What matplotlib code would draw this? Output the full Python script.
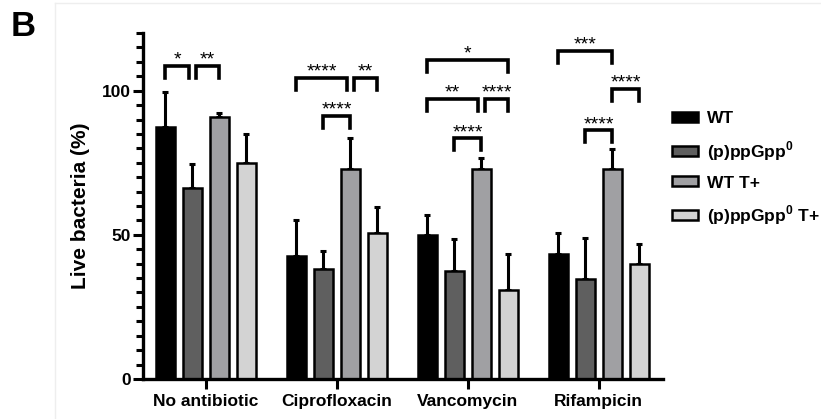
import numpy as np
import matplotlib.pyplot as plt
from matplotlib.lines import Line2D
from matplotlib.patches import Patch
from matplotlib.ticker import MultipleLocator

plt.rcParams['font.family'] = ['Liberation Sans', 'DejaVu Sans']
plt.rcParams['font.weight'] = 'bold'
plt.rcParams['mathtext.fontset'] = 'custom'
plt.rcParams['mathtext.rm'] = 'Liberation Sans'
plt.rcParams['mathtext.bf'] = 'Liberation Sans:bold'

# datos
categories = ['No antibiotic', 'Ciprofloxacin', 'Vancomycin', 'Rifampicin']
series = ['WT', '(p)ppGpp$^{\\mathbf{0}}$', 'WT T+', '(p)ppGpp$^{\\mathbf{0}}$ T+']
colors = ['#000000', '#5f5f5f', '#a0a0a3', '#d3d3d3']
means = [
    [87.5, 42.5, 50.0, 43.3],   # WT
    [66.3, 38.0, 37.3, 34.7],   # (p)ppGpp0
    [90.9, 72.9, 72.9, 72.7],   # WT T+
    [74.9, 50.6, 31.0, 39.8],   # (p)ppGpp0 T+
]
errors_top = [
    [99.6, 55.3, 56.9, 50.6],
    [74.6, 44.5, 48.5, 48.8],
    [92.3, 83.5, 76.7, 79.8],
    [85.0, 59.6, 43.2, 46.9],
]
# (grupo, serie_a, serie_b, altura, texto)
comparisons = [
    (0, 0, 1, 108.7, '*'),
    (0, 1, 2, 108.7, '**'),
    (1, 0, 2, 104.5, '****'),
    (1, 2, 3, 104.5, '**'),
    (1, 1, 2, 91.3, '****'),
    (2, 0, 3, 110.8, '*'),
    (2, 0, 2, 97.2, '**'),
    (2, 2, 3, 97.2, '****'),
    (2, 1, 2, 83.6, '****'),
    (3, 0, 2, 113.9, '***'),
    (3, 2, 3, 100.7, '****'),
    (3, 1, 2, 86.4, '****'),
]

fig = plt.figure(figsize=(8.21, 4.19), dpi=100)
ax = fig.add_axes([0.1742, 0.0955, 0.6334, 0.8257])

x = np.arange(len(categories))
step = 0.206
offsets = (np.arange(4) - 1.5) * step

for i in range(4):
    xs = x + offsets[i]
    m = np.array(means[i])
    e = np.array(errors_top[i]) - m
    ax.errorbar(xs, m, yerr=[np.zeros_like(e), e], fmt='none',
                ecolor='black', elinewidth=2.2, capsize=2.2, capthick=2.2, zorder=1)
    ax.bar(xs, m, width=0.145, color=colors[i], edgecolor='black',
           linewidth=1.8, zorder=2)

# corchetes de significancia
leg = 4.3
gap = 0.027
for g, a, b, h, txt in comparisons:
    x1 = g + offsets[a]
    x2 = g + offsets[b]
    # separar corchetes que comparten un extremo a la misma altura
    for g2, a2, b2, h2, _ in comparisons:
        if g2 == g and h2 == h:
            if b2 == a:
                x1 += gap
            if a2 == b:
                x2 -= gap
    ax.plot([x1, x1, x2, x2], [h - leg, h, h, h - leg], color='black',
            lw=2.6, solid_joinstyle='miter', clip_on=False)
    ax.text((x1 + x2) / 2, h + 0.3, txt, ha='center', va='baseline',
            fontsize=14, fontweight='normal')

ax.set_xlim(-0.48, 3.49)
ax.set_ylim(0, 120)
ax.set_xticks(x)
ax.set_xticklabels(categories, fontsize=12.5, fontweight='bold')
ax.set_yticks([0, 50, 100])
ax.yaxis.set_minor_locator(MultipleLocator(5))
ax.tick_params(axis='y', which='major', length=7, width=2.2, labelsize=12.5, pad=2)
ax.tick_params(axis='y', which='minor', length=5, width=2.2)
ax.tick_params(axis='x', which='major', length=7, width=2.2, pad=4)
for lab in ax.get_yticklabels():
    lab.set_fontweight('bold')
for s in ['top', 'right']:
    ax.spines[s].set_visible(False)
for s in ['left', 'bottom']:
    ax.spines[s].set_linewidth(2.4)
ax.set_ylabel('Live bacteria (%)', fontsize=15, fontweight='bold', labelpad=8)

handles = [Patch(facecolor=c, edgecolor='black', linewidth=1.8) for c in colors]
ax.legend(handles, series, loc='upper left', bbox_to_anchor=(1.003, 0.795),
          frameon=False, fontsize=12.5, handlelength=1.5, handleheight=0.5,
          labelspacing=0.75, handletextpad=0.55, borderaxespad=0)

fig.text(0.013, 0.975, 'B', fontsize=25, fontweight='bold', va='top', ha='left')

# marco tenue de la imagen original
fig.add_artist(Line2D([0.067, 0.067], [0, 0.993], color='#eeeeee', lw=1))
fig.add_artist(Line2D([0.067, 1], [0.993, 0.993], color='#eeeeee', lw=1))

fig.savefig('out.png', dpi=100)
